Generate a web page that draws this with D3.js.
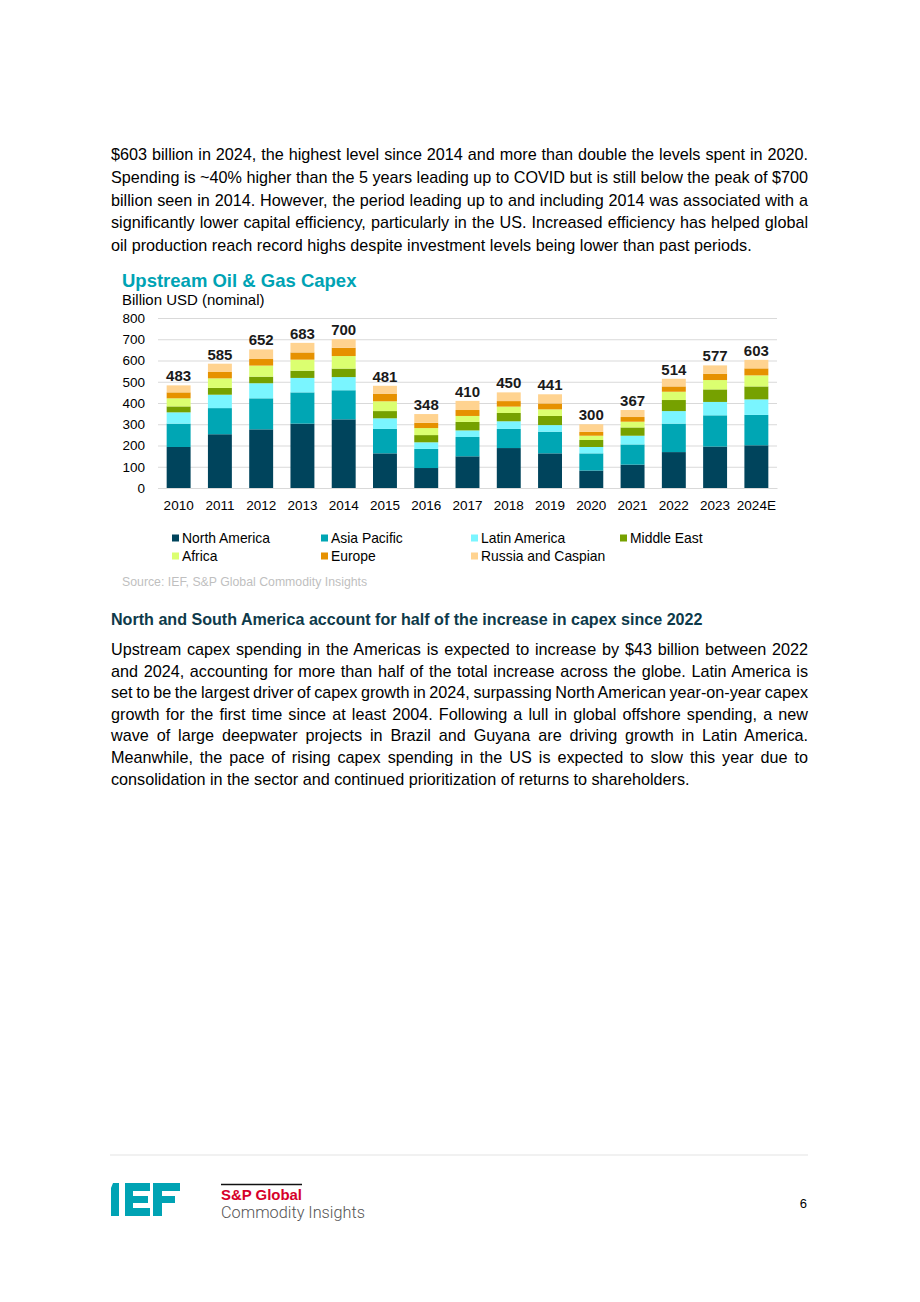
<!DOCTYPE html>
<html><head><meta charset="utf-8">
<script src="https://cdn.jsdelivr.net/npm/d3@7/dist/d3.min.js"></script>
<style>body{margin:0;background:#fff}svg{display:block}</style>
</head><body>
<svg id="page" width="920" height="1302"></svg>
<script>
const years = ["2010","2011","2012","2013","2014","2015","2016","2017","2018","2019","2020","2021","2022","2023","2024E"];
const northAmerica = [193,253,276,303,323,163,94,149,188,163,82,110,169,195,201];
const asiaPacific  = [110,123,146,147,137,115,90,91,90,102,81,95,134,147,143];
const latinAmerica = [53,63,71,68,62,50,31,31,36,31,30,41,59,63,73];
const middleEast   = [28,32,31,34,40,34,34,40,39,43,33,39,52,59,61];
const africa       = [38,45,52,52,59,46,33,28,30,31,20,27,39,44,52];
const europe       = [28,30,31,34,39,36,25,28,26,28,18,22,25,30,33];
const russiaCaspian= [33,39,45,45,40,37,41,43,41,43,36,33,36,39,40];
const totals       = [483,585,652,683,700,481,348,410,450,441,300,367,514,577,603];
const seriesNames  = ["North America","Asia Pacific","Latin America","Middle East","Africa","Europe","Russia and Caspian"];
const yTicks       = [0,100,200,300,400,500,600,700,800];

const colors = ["#00445c","#00a6b4","#7af5ff","#76a100","#dbff70","#e69100","#ffd390"];
const seriesData = [northAmerica,asiaPacific,latinAmerica,middleEast,africa,europe,russiaCaspian];

const svg = d3.select("#page");
const FONT = "Liberation Sans, Arial, Helvetica, sans-serif";

const para1 = [
 "$603 billion in 2024, the highest level since 2014 and more than double the levels spent in 2020.",
 "Spending is ~40% higher than the 5 years leading up to COVID but is still below the peak of $700",
 "billion seen in 2014. However, the period leading up to and including 2014 was associated with a",
 "significantly lower capital efficiency, particularly in the US. Increased efficiency has helped global",
 "oil production reach record highs despite investment levels being lower than past periods."
];
const para2 = [
 "Upstream capex spending in the Americas is expected to increase by $43 billion between 2022",
 "and 2024, accounting for more than half of the total increase across the globe. Latin America is",
 "set to be the largest driver of capex growth in 2024, surpassing North American year-on-year capex",
 "growth for the first time since at least 2004. Following a lull in global offshore spending, a new",
 "wave of large deepwater projects in Brazil and Guyana are driving growth in Latin America.",
 "Meanwhile, the pace of rising capex spending in the US is expected to slow this year due to",
 "consolidation in the sector and continued prioritization of returns to shareholders."
];

function paragraph(lines, x0, x1, y0, lh, size){
  const g = svg.append("g").attr("font-family",FONT).attr("font-size",size).attr("fill","#000");
  lines.forEach((t,i)=>{
    const el = g.append("text").attr("x",x0).attr("y",y0+i*lh).text(t);
    if(i<lines.length-1){
      const w = el.node().getComputedTextLength();
      const gaps = t.split(" ").length-1;
      const ws = (x1-x0-w)/gaps;
      el.attr("word-spacing",ws);
      const w2 = el.node().getComputedTextLength();
      if(Math.abs(w2-(x1-x0))>1) el.attr("textLength",x1-x0).attr("lengthAdjust","spacing");
    }
  });
}
paragraph(para1,111,808,160,22.8,16.2);
svg.append("text").attr("x",111).attr("y",625).attr("font-family",FONT).attr("font-size",16.1)
  .attr("font-weight","bold").attr("fill","#0e3a4a")
  .text("North and South America account for half of the increase in capex since 2022");
paragraph(para2,111,808,655,21.6,16.2);

// Chart
const x = d3.scaleBand().domain(years).range([158,777]).paddingInner(0.42).paddingOuter(0.21);
const y = d3.scaleLinear().domain([0,800]).range([488,318]);

svg.append("text").attr("x",122).attr("y",287).attr("font-family",FONT).attr("font-size",18.5)
  .attr("font-weight","bold").attr("fill","#00a3b4").text("Upstream Oil & Gas Capex");
svg.append("text").attr("x",122).attr("y",305).attr("font-family",FONT).attr("font-size",15)
  .attr("fill","#000").text("Billion USD (nominal)");

const yAxis = d3.axisLeft(y).tickValues(yTicks).tickSize(-(777-158)).tickFormat(d3.format("d")).tickPadding(13);
const ga = svg.append("g").attr("transform","translate(158,0)").call(yAxis);
ga.select(".domain").remove();
ga.selectAll(".tick line").attr("stroke","#d9d9d9").attr("stroke-width",1);
ga.selectAll(".tick text").attr("font-family",FONT).attr("font-size",13.5).attr("fill","#000");

const table = years.map((yr,i)=>{ const o={year:yr}; seriesNames.forEach((s,k)=>o[s]=seriesData[k][i]); return o;});
const stack = d3.stack().keys(seriesNames)(table);
svg.append("g").selectAll("g").data(stack).join("g").attr("fill",(d,i)=>colors[i])
  .selectAll("rect").data(d=>d).join("rect")
  .attr("x",d=>x(d.data.year)).attr("width",x.bandwidth())
  .attr("y",d=>y(d[1])).attr("height",d=>y(d[0])-y(d[1]));

const xAxis = d3.axisBottom(x).tickSize(0).tickPadding(12);
const gx = svg.append("g").attr("transform","translate(0,488)").call(xAxis);
gx.select(".domain").attr("stroke","#d9d9d9");
gx.selectAll(".tick text").attr("font-family",FONT).attr("font-size",13.5).attr("fill","#000");

svg.append("g").selectAll("text").data(years).join("text")
  .attr("x",d=>x(d)+x.bandwidth()/2).attr("y",(d,i)=>y(totals[i])-4)
  .attr("text-anchor","middle").attr("font-family",FONT).attr("font-size",15)
  .attr("font-weight","bold").attr("fill","#1a1a1a").text((d,i)=>totals[i]);

const legX = [172,321,471,620], legY=[538,556];
const lg = svg.append("g").attr("font-family",FONT).attr("font-size",13.9);
seriesNames.forEach((s,i)=>{
  const cx = legX[i%4], cy = legY[Math.floor(i/4)];
  lg.append("rect").attr("x",cx).attr("y",cy-3.5).attr("width",7).attr("height",7).attr("fill",colors[i]);
  lg.append("text").attr("x",cx+10).attr("y",cy+5).attr("fill","#000").text(s);
});
svg.append("text").attr("x",122).attr("y",586).attr("font-family",FONT).attr("font-size",12.3)
  .attr("fill","#bfbfbf").text("Source: IEF, S&P Global Commodity Insights");

svg.append("line").attr("x1",110).attr("x2",808).attr("y1",1155).attr("y2",1155).attr("stroke","#e3e3e3");
const logo = svg.append("g").attr("fill","#00a3b4");
logo.append("path").attr("d","M113,1183 L119,1183 L119,1216 L111,1216 L111,1188 Z");
logo.append("rect").attr("x",125).attr("y",1183).attr("width",8).attr("height",33);
logo.append("rect").attr("x",125).attr("y",1183).attr("width",25).attr("height",8);
logo.append("rect").attr("x",125).attr("y",1196).attr("width",23).attr("height",7);
logo.append("rect").attr("x",125).attr("y",1208).attr("width",25).attr("height",8);
logo.append("rect").attr("x",153).attr("y",1183).attr("width",9).attr("height",33);
logo.append("rect").attr("x",153).attr("y",1183).attr("width",27).attr("height",8);
logo.append("rect").attr("x",153).attr("y",1196).attr("width",22).attr("height",7);
svg.append("line").attr("x1",221).attr("x2",302).attr("y1",1184.5).attr("y2",1184.5).attr("stroke","#111").attr("stroke-width",1.5);
svg.append("text").attr("x",221).attr("y",1200).attr("font-family",FONT).attr("font-size",15)
  .attr("font-weight","bold").attr("fill","#d6002a").attr("textLength",81).attr("lengthAdjust","spacingAndGlyphs").text("S&P Global");
svg.append("text").attr("x",221).attr("y",1218).attr("font-family","Roboto, "+FONT).attr("font-size",17)
  .attr("font-weight",300).attr("fill","#555").attr("textLength",144).attr("lengthAdjust","spacingAndGlyphs").text("Commodity Insights");
svg.append("text").attr("x",807).attr("y",1208).attr("text-anchor","end").attr("font-family",FONT)
  .attr("font-size",13).attr("fill","#000").text("6");
</script>
</body></html>
